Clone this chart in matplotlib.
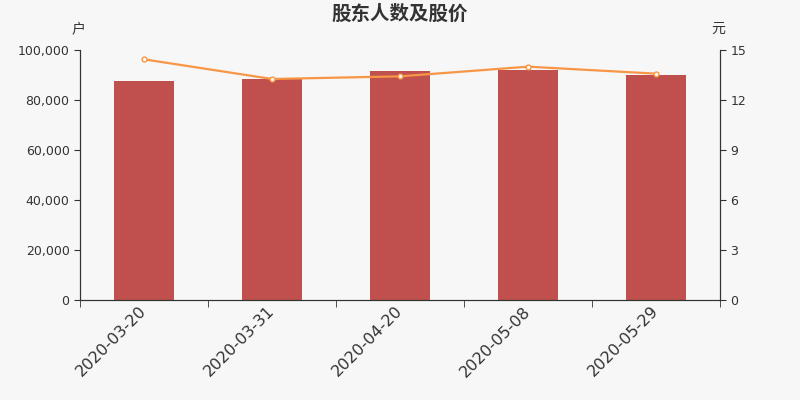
import matplotlib
matplotlib.use('Agg')
import matplotlib.pyplot as plt
import numpy as np
from matplotlib.ticker import FuncFormatter
from matplotlib.transforms import ScaledTranslation

plt.rcParams['font.family'] = ['DejaVu Sans', 'Noto Sans CJK SC']

dates = ['2020-03-20', '2020-03-31', '2020-04-20', '2020-05-08', '2020-05-29']
holders = [87700, 88500, 91700, 92100, 90100]
price = [14.44, 13.26, 13.42, 14.0, 13.58]

bg = '#f7f7f7'
fig = plt.figure(figsize=(8, 4), dpi=100, facecolor=bg)
ax = fig.add_axes([0.1, 0.25, 0.8, 0.625])
ax.set_facecolor(bg)
x = np.arange(len(dates))
ax.bar(x, holders, width=0.47, color='#c0504d', zorder=2)
ax.set_xlim(-0.5, len(dates) - 0.5)
ax.set_ylim(0, 100000)
ax.set_yticks(np.arange(0, 100001, 20000))
ax.yaxis.set_major_formatter(FuncFormatter(lambda v, p: f'{int(v):,}'))

ax.set_xticks(x)
ax.set_xticklabels(dates, rotation=45, ha='right', rotation_mode='anchor',
                   fontsize=11.5, color='#333333')
ax.tick_params(axis='x', length=0, pad=4)
shift = ScaledTranslation(-0.05, 0.02, fig.dpi_scale_trans)
for lbl in ax.get_xticklabels():
    lbl.set_transform(lbl.get_transform() + shift)
ax.set_xticks(np.arange(-0.5, len(dates)), minor=True)
ax.tick_params(axis='x', which='minor', length=5, color='#333333')
ax.tick_params(axis='y', labelsize=9, colors='#333333', length=4)

ax2 = ax.twinx()
ax2.plot(x, price, color='#f79646', lw=1.6, marker='o', ms=3.5,
         mfc='white', mec='#f79646', mew=1, zorder=3)
ax2.set_ylim(0, 15)
ax2.set_yticks(np.arange(0, 16, 3))
ax2.tick_params(axis='y', labelsize=9, colors='#333333', length=4)

for a in (ax, ax2):
    a.spines['top'].set_visible(False)
    for s in ('left', 'right', 'bottom'):
        a.spines[s].set_color('#333333')

fig.text(0.5, 0.965, '股东人数及股价', ha='center', va='center',
         fontsize=14, fontweight='bold', color='#333333',
         family=['Noto Sans CJK SC', 'DejaVu Sans'])
fig.text(0.098, 0.928, '户', ha='center', va='center', fontsize=10, color='#333333',
         family=['Noto Sans CJK SC', 'DejaVu Sans'])
fig.text(0.898, 0.928, '元', ha='center', va='center', fontsize=10, color='#333333',
         family=['Noto Sans CJK SC', 'DejaVu Sans'])

fig.savefig('out.png', dpi=100, facecolor=bg)
